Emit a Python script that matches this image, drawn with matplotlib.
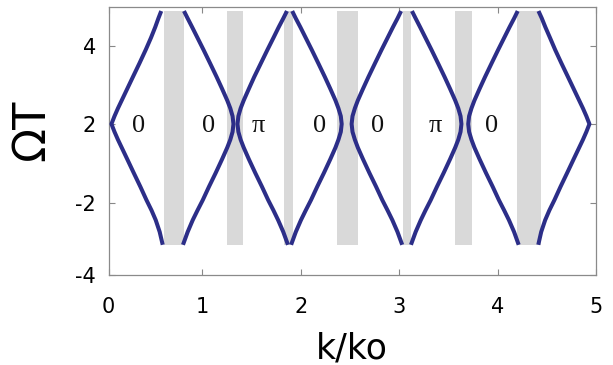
import numpy as np
import matplotlib.pyplot as plt

# y levels (Omega T, plot units) shared by every branch, top -> bottom
y_levels = [2.88, 2.70, 2.47, 2.20, 1.89, 1.55, 1.20, 0.90, 0.60, 0.40, 0.20, 0.0,
            -0.20, -0.40, -0.60, -0.90, -1.25, -1.60, -1.94, -2.20, -2.45, -2.75, -3.08]

# k/ko of each branch at those levels
branch_a = [0.581, 0.553, 0.520, 0.477, 0.423, 0.360, 0.293, 0.236, 0.179, 0.141, 0.106, 0.075,
            0.106, 0.141, 0.179, 0.236, 0.302, 0.369, 0.431, 0.482, 0.525, 0.565, 0.596]
branch_b = [0.812, 0.848, 0.895, 0.949, 1.011, 1.077, 1.144, 1.199, 1.252, 1.283, 1.306, 1.315,
            1.306, 1.283, 1.252, 1.199, 1.134, 1.066, 1.003, 0.950, 0.901, 0.850, 0.802]
branch_c = [1.859, 1.823, 1.775, 1.722, 1.660, 1.594, 1.526, 1.472, 1.419, 1.388, 1.365, 1.356,
            1.365, 1.388, 1.419, 1.472, 1.537, 1.605, 1.668, 1.721, 1.769, 1.821, 1.869]
branch_d = [1.912, 1.947, 1.995, 2.049, 2.111, 2.177, 2.244, 2.299, 2.352, 2.382, 2.406, 2.415,
            2.406, 2.382, 2.352, 2.299, 2.234, 2.166, 2.103, 2.050, 2.001, 1.949, 1.901]
branch_e = [3.019, 2.984, 2.936, 2.882, 2.820, 2.754, 2.687, 2.632, 2.579, 2.549, 2.525, 2.516,
            2.525, 2.549, 2.579, 2.632, 2.697, 2.765, 2.828, 2.881, 2.930, 2.982, 3.030]
branch_f = [3.129, 3.165, 3.212, 3.266, 3.328, 3.394, 3.461, 3.516, 3.569, 3.600, 3.623, 3.632,
            3.623, 3.600, 3.569, 3.516, 3.451, 3.383, 3.320, 3.267, 3.219, 3.167, 3.119]
branch_g = [4.204, 4.169, 4.121, 4.067, 4.005, 3.939, 3.872, 3.817, 3.764, 3.734, 3.710, 3.701,
            3.710, 3.734, 3.764, 3.817, 3.882, 3.950, 4.013, 4.066, 4.115, 4.167, 4.214]
branch_h = [4.415, 4.448, 4.485, 4.532, 4.585, 4.648, 4.715, 4.772, 4.829, 4.867, 4.902, 4.933,
            4.902, 4.867, 4.829, 4.772, 4.706, 4.639, 4.577, 4.526, 4.483, 4.443, 4.413]
branches = [branch_a, branch_b, branch_c, branch_d, branch_e, branch_f, branch_g, branch_h]

# gray gaps (k start, k end)
gap_start = [0.609, 1.246, 1.833, 2.367, 3.035, 3.568, 4.196]
gap_end = [0.812, 1.416, 1.922, 2.585, 3.117, 3.741, 4.438]
gap_top = 2.88
gap_bottom = -3.08

# phase labels
phase_k = [0.348, 1.059, 1.567, 2.194, 2.776, 3.363, 3.939]
phase_text = ['0', '0', 'π', '0', '0', 'π', '0']

xtick_labels = ['0', '1', '2', '3', '4', '5']
ytick_labels = ['-4', '-2', '2', '4']

fig = plt.figure(figsize=(6.13, 3.65), dpi=100)
ax = fig.add_axes([0.177, 0.2466, 0.7953, 0.735])

for s, e in zip(gap_start, gap_end):
    ax.fill_between([s, e], gap_bottom, gap_top, color='#d9d9d9', lw=0, zorder=1)

for b in branches:
    ax.plot(b, y_levels, color='#2c2e88', lw=2.9, solid_capstyle='butt',
            solid_joinstyle='round', zorder=3)

for k, t in zip(phase_k, phase_text):
    ax.text(k, -0.05, t, ha='center', va='center', fontsize=19,
            family=['Liberation Serif', 'DejaVu Serif'], color='#111111', zorder=4)

ax.set_xlim(0.045, 5.0)
ax.set_ylim(-3.85, 2.99)
ax.set_xticks([0.045, 1, 2, 3, 4, 5])
ax.set_xticklabels(xtick_labels)
ax.set_yticks([-3.85, -2.01, 0, 1.99])
ax.set_yticklabels(ytick_labels)
ax.tick_params(direction='in', length=4, width=0.8, color='#888888',
               labelsize=15, top=True, right=True)
ax.tick_params(axis='x', pad=16)
ax.tick_params(axis='y', pad=9)
for sp in ax.spines.values():
    sp.set_color('#8a8a8a')
    sp.set_linewidth(0.9)

ax.set_xlabel('k/ko', fontsize=25, labelpad=10)
ax.set_ylabel('ΩT', fontsize=32)
ax.yaxis.set_label_coords(-0.113, 0.54)

fig.savefig('out.png', dpi=100)
